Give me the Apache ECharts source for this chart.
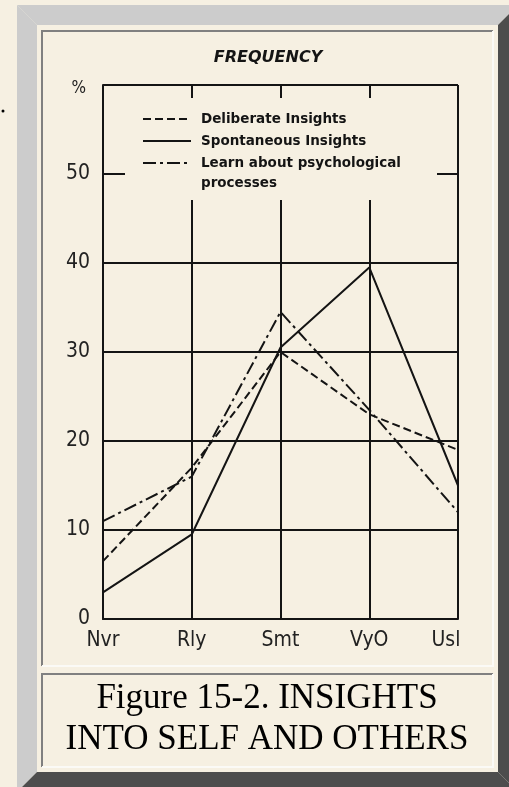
<!DOCTYPE html>
<html><head><meta charset="utf-8">
<script src="https://cdn.jsdelivr.net/npm/echarts@6/dist/echarts.min.js"></script>
<style>html,body{margin:0;padding:0;background:#f6f0e2;} #c{width:509px;height:787px;}</style>
</head><body><div id="c"></div>
<script>
// ---- data ----
const categories = ['Nvr', 'Rly', 'Smt', 'VyO', 'Usl'];
const deliberate = [6.5, 17, 30, 23, 19];
const spontaneous = [3, 9.5, 30.5, 39.5, 15];
const learn = [11, 16, 34.5, 23.5, 12];
const seriesNames = ['Deliberate Insights', 'Spontaneous Insights', 'Learn about psychological processes'];
const chartTitle = 'FREQUENCY';
const captionLines = ['Figure 15-2. INSIGHTS', 'INTO SELF AND OTHERS'];
const yUnit = '%';
const yMax = 60;
const yStep = 10;

// ---- styles ----
const BG = '#f6f0e2';
const INK = '#141414';
const narrow = "'DejaVu Sans Condensed', 'DejaVu Sans', sans-serif";
const legendText = {fontFamily: 'DejaVu Sans', fontWeight: 'bold', fontSize: 13.5, lineHeight: 20, color: INK, padding: [0, 0, 0, 5]};

const chart = echarts.init(document.getElementById('c'), null, {renderer: 'canvas'});
const option = {
  backgroundColor: BG,
  animation: false,
  title: [
    {text: chartTitle, left: 268, top: 50, padding: 0, textAlign: 'center',
     textStyle: {fontFamily: 'DejaVu Sans', fontStyle: 'italic', fontWeight: 'bold', fontSize: 16, color: INK}},
    {text: captionLines.join('\n'), left: 267, top: 678, padding: 0, textAlign: 'center',
     textStyle: {fontFamily: "'Liberation Serif', 'DejaVu Serif', serif", fontWeight: 'normal', fontSize: 35, lineHeight: 41, color: '#000'}}
  ],
  grid: {left: 103, top: 85, width: 355, height: 534, containLabel: false},
  xAxis: {
    type: 'category', data: categories.map((c, i) => i === categories.length - 1 ? {value: c, textStyle: {padding: [0, 24, 0, 0]}} : c),
    boundaryGap: false,
    axisLine: {lineStyle: {color: INK, width: 2}},
    axisTick: {show: false},
    axisLabel: {fontFamily: narrow, fontSize: 21, color: '#222', margin: 11},
    splitLine: {show: true, lineStyle: {color: INK, width: 2}}
  },
  yAxis: {
    type: 'value', min: 0, max: yMax, interval: yStep,
    axisLine: {show: true, lineStyle: {color: INK, width: 2}},
    axisTick: {show: false},
    axisLabel: {fontFamily: narrow, fontSize: 21, color: '#222', margin: 13,
      formatter: v => v === yMax ? '{u|' + yUnit + '}' : String(v),
      rich: {u: {fontFamily: 'DejaVu Sans Condensed', fontSize: 17, color: '#222', padding: [8, 4, 0, 0]}}},
    splitLine: {show: true, lineStyle: {color: INK, width: 2}}
  },
  legend: [
    {data: [seriesNames[0], seriesNames[1]], orient: 'vertical', left: 142, top: 109, padding: 0,
     itemWidth: 48, itemHeight: 14, itemGap: 2, selectedMode: false, itemStyle: {opacity: 0},
     textStyle: legendText},
    {data: [seriesNames[2]], orient: 'vertical', left: 142, top: 133, padding: 0,
     itemWidth: 48, itemHeight: 14, itemGap: 1, selectedMode: false, itemStyle: {opacity: 0},
     formatter: n => '\n' + n.replace(' processes', '\nprocesses'),
     textStyle: legendText}
  ],
  graphic: [
    // outer bevelled frame
    {type: 'polygon', silent: true, z: 0, shape: {points: [[17, 5], [518, 5], [498, 25], [37, 25]]}, style: {fill: '#cccccc'}},
    {type: 'polygon', silent: true, z: 0, shape: {points: [[17, 5], [37, 25], [37, 772], [17, 792]]}, style: {fill: '#cccccc'}},
    {type: 'polygon', silent: true, z: 0, shape: {points: [[518, 5], [518, 792], [498, 772], [498, 25]]}, style: {fill: '#4d4d4d'}},
    {type: 'polygon', silent: true, z: 0, shape: {points: [[17, 792], [37, 772], [498, 772], [518, 792]]}, style: {fill: '#4d4d4d'}},
    // cell borders
    {type: 'polyline', silent: true, z: 0, shape: {points: [[42, 666], [42, 31], [493, 31]]}, style: {stroke: '#808080', lineWidth: 2, fill: null}},
    {type: 'polyline', silent: true, z: 0, shape: {points: [[493, 31], [493, 666], [42, 666]]}, style: {stroke: '#fbfaf6', lineWidth: 2, fill: null}},
    {type: 'polyline', silent: true, z: 0, shape: {points: [[42, 767], [42, 674], [493, 674]]}, style: {stroke: '#808080', lineWidth: 2, fill: null}},
    {type: 'polyline', silent: true, z: 0, shape: {points: [[493, 674], [493, 767], [42, 767]]}, style: {stroke: '#fbfaf6', lineWidth: 2, fill: null}},
    // legend box hiding the grid
    {type: 'rect', silent: true, z: 1, shape: {x: 125, y: 98, width: 312, height: 102}, style: {fill: BG}},
    // stray dot
    {type: 'circle', silent: true, z: 0, shape: {cx: 3, cy: 111, r: 1.5}, style: {fill: '#000'}}
  ],
  series: [
    {name: seriesNames[0], type: 'line', data: deliberate, symbol: 'none', z: 3,
     itemStyle: {color: INK}, lineStyle: {color: INK, width: 2, type: [8, 4]}},
    {name: seriesNames[1], type: 'line', data: spontaneous, symbol: 'none', z: 3,
     itemStyle: {color: INK}, lineStyle: {color: INK, width: 2, type: 'solid'}},
    {name: seriesNames[2], type: 'line', data: learn, symbol: 'none', z: 3,
     itemStyle: {color: INK}, lineStyle: {color: INK, width: 2, type: [13, 4, 3, 4]}}
  ]
};
chart.setOption(option);
</script>
</body></html>
